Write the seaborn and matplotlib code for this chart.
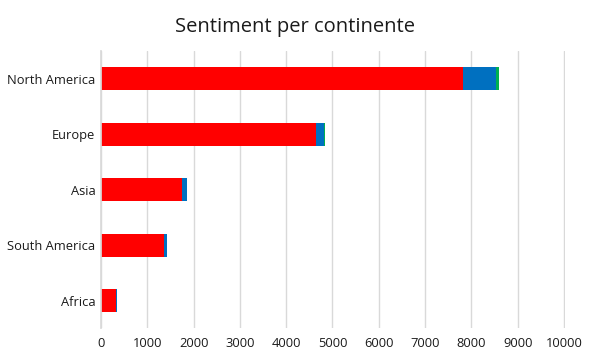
import matplotlib
matplotlib.use("Agg")
import matplotlib.pyplot as plt
import seaborn as sns
import pandas as pd
import numpy as np

continents = ["North America", "Europe", "Asia", "South America", "Africa"]
negative = [7820, 4644, 1742, 1368, 317]
neutral = [710, 181, 108, 52, 20]
positive = [70, 15, 8, 5, 3]

df = pd.DataFrame({"continent": continents, "neg": negative, "neu": neutral, "pos": positive})
df["c1"] = df["neg"]
df["c2"] = df["neg"] + df["neu"]
df["c3"] = df["c2"] + df["pos"]

sns.set_theme(style="white")
plt.rcParams["font.family"] = ["Open Sans", "DejaVu Sans"]

fig = plt.figure(figsize=(5.94, 3.55), dpi=100)
ax = fig.add_axes([0.170, 0.075, 0.781, 0.781])

# stacked bars: draw cumulative totals, longest first
for col, colr in [("c3", "#00B050"), ("c2", "#0070C0"), ("c1", "#FF0000")]:
    sns.barplot(data=df, x=col, y="continent", order=continents, color=colr,
                width=0.42, saturation=1, linewidth=0, ax=ax)

ax.set_xlim(0, 10020)
ax.set_xticks(np.arange(0, 10001, 1000))
ax.set_xlabel("")
ax.set_ylabel("")
ax.grid(axis="x", color="#D9D9D9", linewidth=1)
ax.set_axisbelow(True)
for s in ["top", "right", "bottom"]:
    ax.spines[s].set_visible(False)
ax.spines["left"].set_color("#D9D9D9")
ax.tick_params(axis="both", length=0, labelsize=9.3, colors="#1a1a1a")
ax.tick_params(axis="x", pad=6)
ax.tick_params(axis="y", pad=4)

fig.text(0.497, 0.925, "Sentiment per continente", ha="center", va="center",
         fontsize=14.5, color="#1a1a1a")

fig.savefig("out.png", dpi=100)
